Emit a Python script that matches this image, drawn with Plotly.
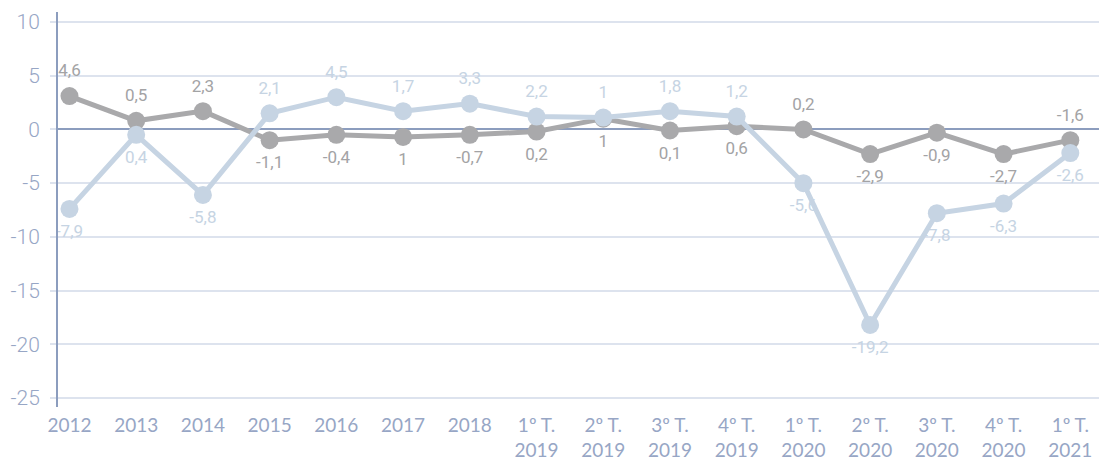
import plotly.graph_objects as go

categories = ["2012", "2013", "2014", "2015", "2016", "2017", "2018",
              "1º T.<br>2019", "2º T.<br>2019", "3º T.<br>2019", "4º T.<br>2019",
              "1º T.<br>2020", "2º T.<br>2020", "3º T.<br>2020", "4º T.<br>2020",
              "1º T.<br>2021"]

gray_values = [3.1, 0.8, 1.7, -1.0, -0.5, -0.7, -0.5, -0.2, 1.0, -0.1, 0.3,
               0.0, -2.3, -0.3, -2.3, -1.0]
gray_labels = ["4,6", "0,5", "2,3", "-1,1", "-0,4", "1", "-0,7", "0,2", "1",
               "0,1", "0,6", "0,2", "-2,9", "-0,9", "-2,7", "-1,6"]
gray_label_pos = ["top", "top", "top", "bottom", "bottom", "bottom", "bottom",
                  "bottom", "bottom", "bottom", "bottom", "top", "bottom",
                  "bottom", "bottom", "top"]

blue_values = [-7.4, -0.5, -6.1, 1.5, 3.0, 1.7, 2.4, 1.2, 1.1, 1.7, 1.2,
               -5.0, -18.2, -7.8, -6.9, -2.2]
blue_labels = ["-7,9", "0,4", "-5,8", "2,1", "4,5", "1,7", "3,3", "2,2", "1",
               "1,8", "1,2", "-5,6", "-19,2", "-7,8", "-6,3", "-2,6"]
blue_label_pos = ["bottom", "bottom", "bottom", "top", "top", "top", "top",
                  "top", "top", "top", "top", "bottom", "bottom", "bottom",
                  "bottom", "bottom"]

y_ticks = [10, 5, 0, -5, -10, -15, -20, -25]
y_tick_text = ["10", "5", "0", "-5", "-10", "-15", "-20", "-25"]

GRAY = "#a9a9ab"
BLUE = "#c6d4e3"
TICK = "#97a6c5"
GRID = "#dde3ee"
AXIS = "#8c9dbe"

fig = go.Figure()

# labels first so the lines are drawn above them
for vals, labs, pos, col in [(gray_values, gray_labels, gray_label_pos, "#a3a3a5"),
                             (blue_values, blue_labels, blue_label_pos, BLUE)]:
    fig.add_trace(go.Scatter(
        x=categories, y=vals, mode="markers+text", text=labs,
        textposition=[p + " center" for p in pos],
        textfont=dict(family="Roboto", size=17, color=col),
        marker=dict(size=23, opacity=0),
        hoverinfo="skip", showlegend=False,
    ))

fig.add_trace(go.Scatter(
    x=categories, y=gray_values, mode="lines+markers",
    line=dict(color=GRAY, width=5),
    marker=dict(size=18, color=GRAY),
    showlegend=False,
))
fig.add_trace(go.Scatter(
    x=categories, y=blue_values, mode="lines+markers",
    line=dict(color=BLUE, width=5),
    marker=dict(size=18, color=BLUE),
    showlegend=False,
))

fig.update_layout(
    width=1099, height=456,
    margin=dict(l=50, r=0, t=4, b=57),
    paper_bgcolor="white", plot_bgcolor="white",
    xaxis=dict(
        type="category", range=[-0.172, 15.55],
        showgrid=False, showline=False, zeroline=False,
        ticks="outside", ticklen=1, tickcolor="rgba(0,0,0,0)",
        tickfont=dict(family="Lato", size=19, color=TICK),
        automargin=False,
    ),
    yaxis=dict(
        range=[-25.84, 10.93], tickvals=y_ticks, ticktext=y_tick_text,
        showgrid=True, gridcolor=GRID, gridwidth=2,
        zeroline=True, zerolinecolor=AXIS, zerolinewidth=2,
        showline=True, linecolor=AXIS, linewidth=2,
        ticks="outside", ticklen=6, tickcolor=GRID, tickwidth=2,
        ticklabelstandoff=6,
        tickfont=dict(family="Roboto", size=21, color=TICK, weight=300),
        automargin=False,
    ),
)

fig.write_html("out.html")
